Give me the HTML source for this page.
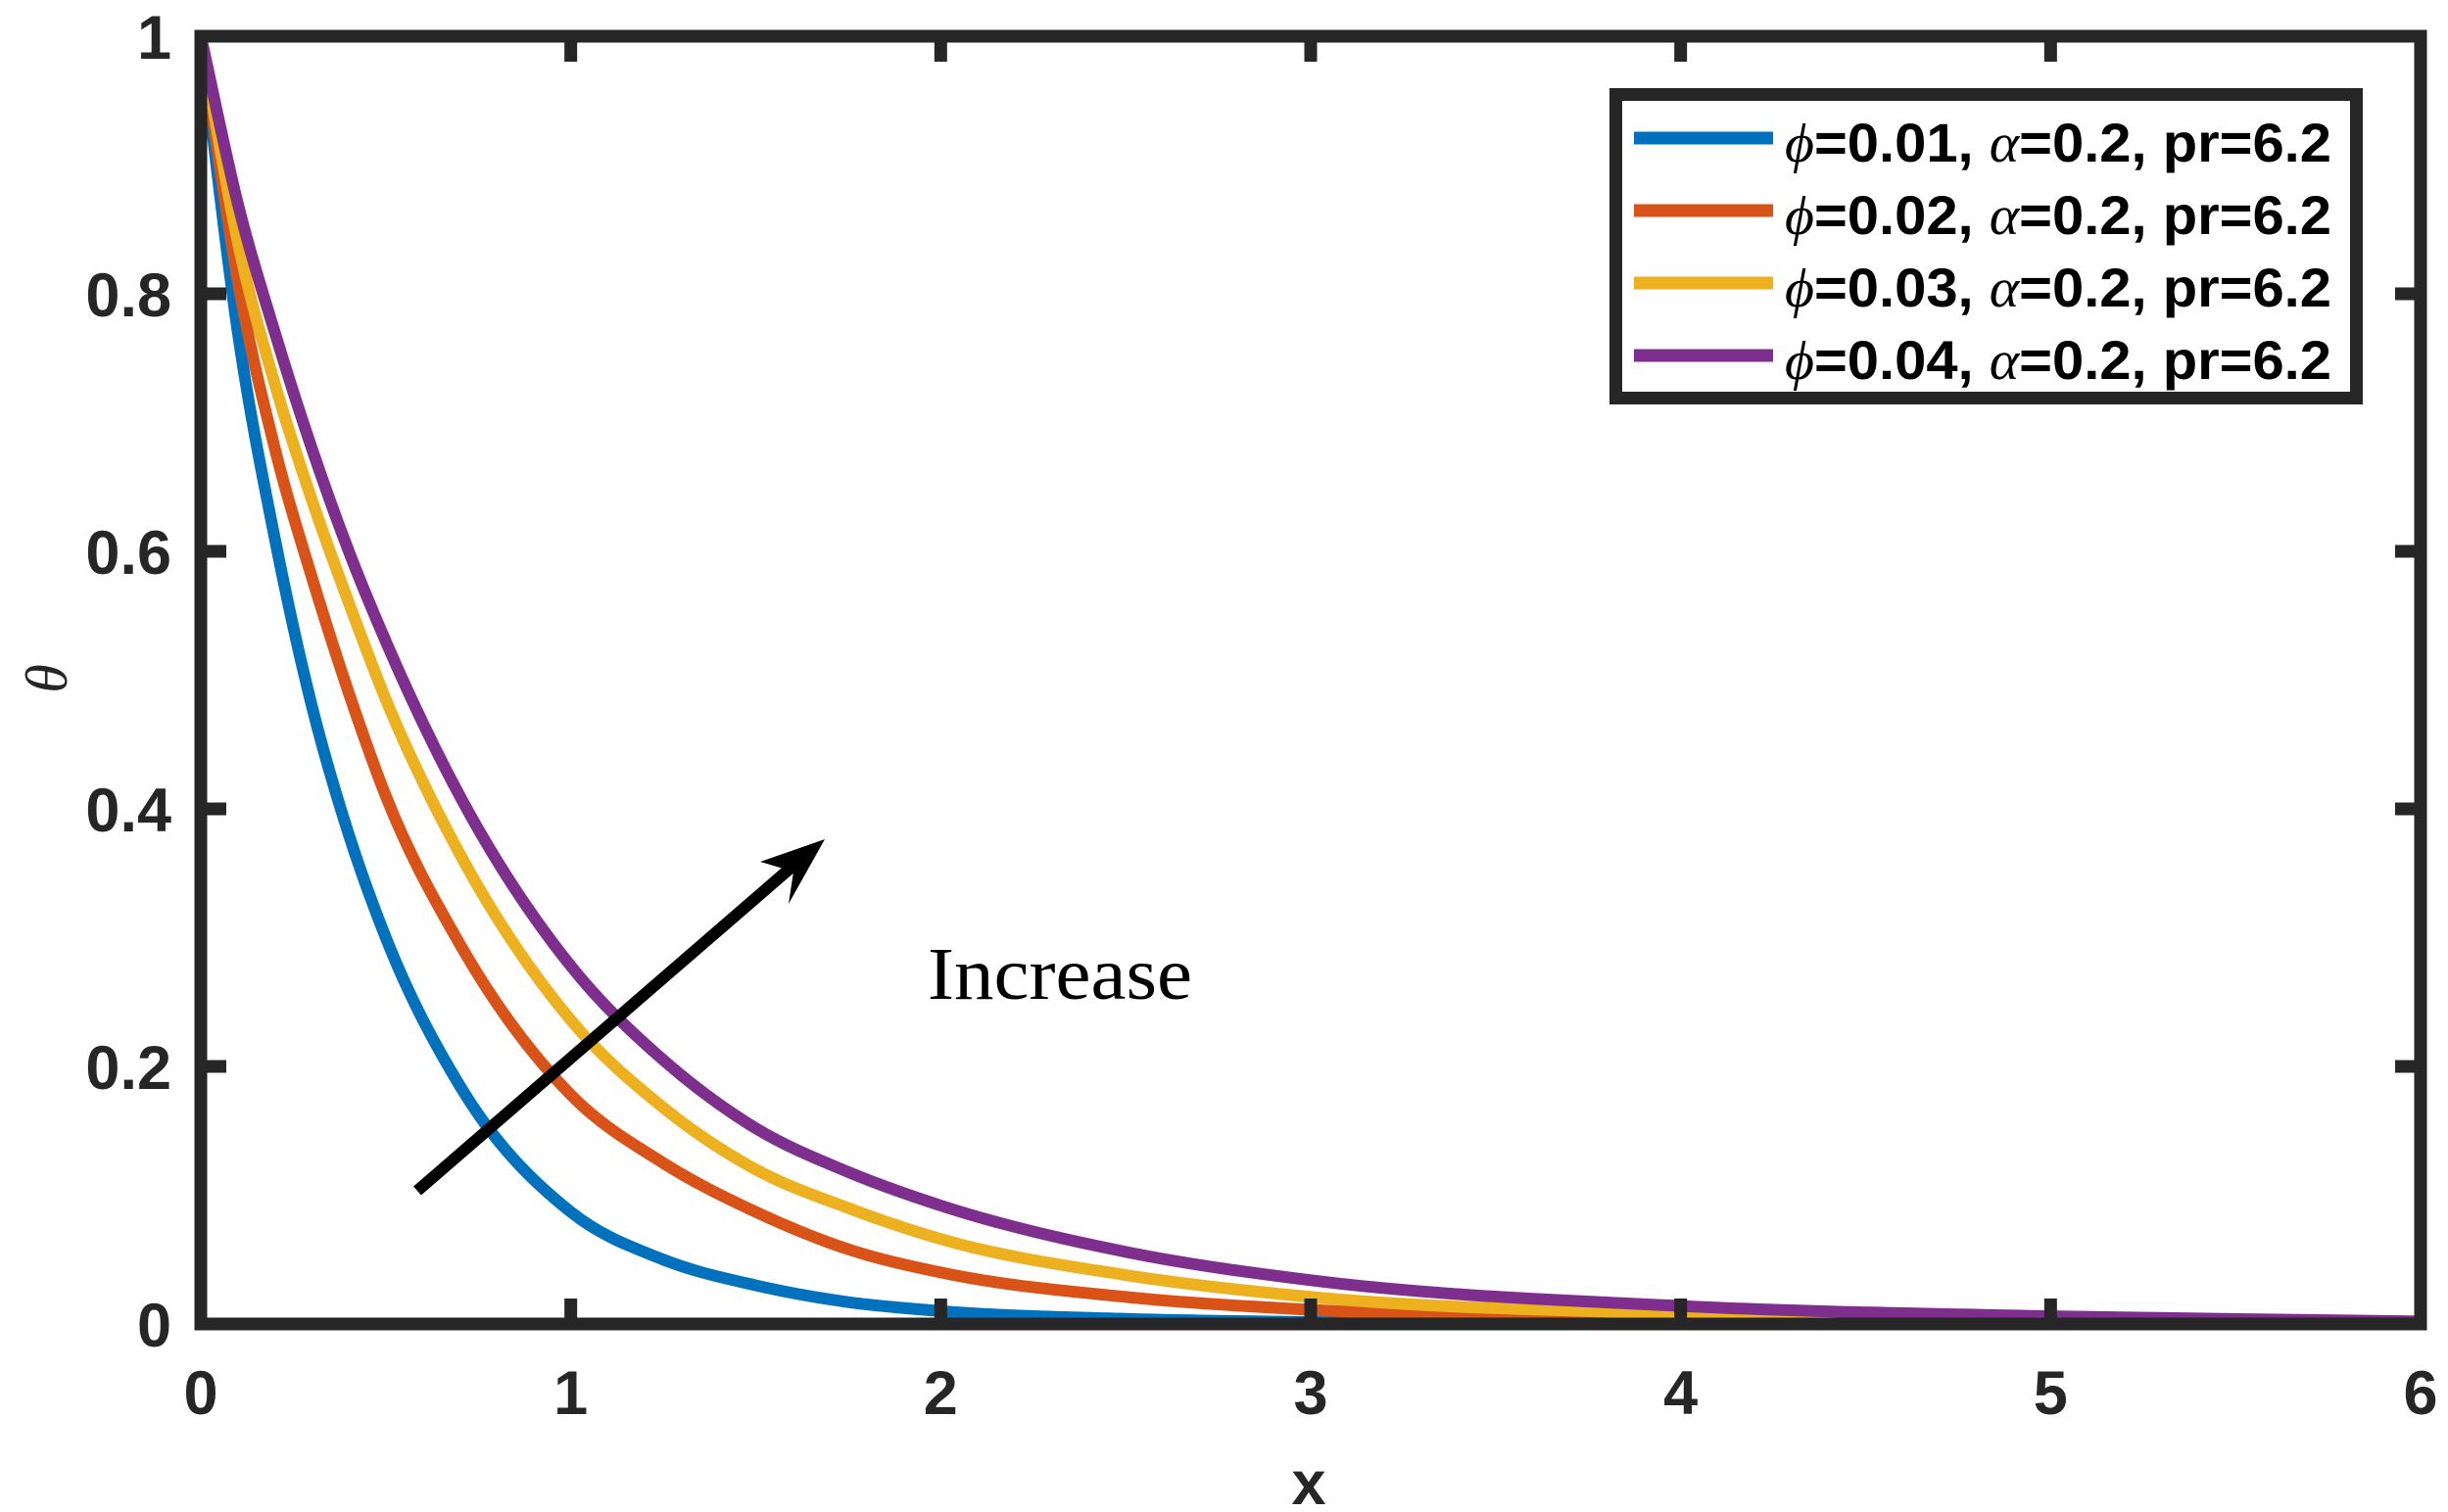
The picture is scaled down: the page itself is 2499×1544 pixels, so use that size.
<!DOCTYPE html>
<html><head><meta charset="utf-8"><style>html,body{margin:0;padding:0;background:#fff}svg{display:block}</style></head>
<body>
<svg id="chart" width="2499" height="1544" viewBox="0 0 2499 1544" xmlns="http://www.w3.org/2000/svg">
<g id="curves"></g>
<g id="axes"></g>
<line x1="426" y1="1216" x2="812" y2="882" stroke="#000" stroke-width="12"/>
<polygon points="842,857 776,880 810,890 805,923" fill="#000"/>
<text x="947" y="1020" font-family="Liberation Serif, serif" font-size="76" fill="#000" textLength="270" lengthAdjust="spacingAndGlyphs">Increase</text>
<text x="1336" y="1536" text-anchor="middle" font-family="Liberation Sans, sans-serif" font-weight="bold" font-size="63" fill="#262626">x</text>
<text transform="translate(68,693) rotate(-90)" text-anchor="middle" font-family="Liberation Serif, serif" font-style="italic" font-size="60" fill="#262626">θ</text>
<g id="legend">
<rect x="1649.5" y="96.5" width="756" height="310" fill="#fff" stroke="#262626" stroke-width="13"/>
</g>
</svg>
<script>
const xs = [0,0.1,0.2,0.3,0.4,0.5,0.7,1,1.25,1.5,1.75,2,2.5,3,4,5,6];
const blue   = [1,0.77,0.61,0.48,0.38,0.30,0.185,0.087,0.05,0.03,0.017,0.010,0.004,0.0015,0.0003,0,0];
const red    = [1,0.81,0.68,0.58,0.49,0.41,0.295,0.178,0.125,0.087,0.058,0.04,0.021,0.011,0.004,0.0015,0];
const yellow = [1,0.84,0.73,0.64,0.56,0.485,0.365,0.236,0.168,0.12,0.09,0.066,0.038,0.021,0.008,0.003,0.001];
const purple = [1,0.87,0.77,0.68,0.60,0.53,0.41,0.278,0.205,0.152,0.118,0.092,0.056,0.034,0.014,0.006,0.002];
const seriesNames = ["phi-0.01","phi-0.02","phi-0.03","phi-0.04"];
const seriesColors = ["#0072BD","#D95319","#EDB120","#7E2F8E"];
const legendPhi = ["0.01","0.02","0.03","0.04"];
const xTicks = [0,1,2,3,4,5,6];
const yTicks = [0,0.2,0.4,0.6,0.8,1];
const yTickLabels = ["0","0.2","0.4","0.6","0.8","1"];

const X0=205, X1=2471, Y0=1352, Y1=37;
const sx = v => X0 + (v-0)/(6-0)*(X1-X0);
const sy = v => Y0 - (v-0)/(1-0)*(Y0-Y1);
const NS="http://www.w3.org/2000/svg";
function mk(tag, attrs){const e=document.createElementNS(NS,tag);for(const k in attrs)e.setAttribute(k,attrs[k]);return e;}

function pathFor(xv, yv){
  const n=xv.length, px=xv.map(sx), py=yv.map(sy);
  const d=[],m=[];
  for(let i=0;i<n-1;i++) d.push((py[i+1]-py[i])/(px[i+1]-px[i]));
  m[0]=d[0]; m[n-1]=d[n-2];
  for(let i=1;i<n-1;i++){
    if(d[i-1]*d[i]<=0){m[i]=0;continue;}
    const h0=px[i]-px[i-1], h1=px[i+1]-px[i];
    m[i]=(d[i-1]*h1+d[i]*h0)/(h0+h1);
  }
  for(let i=0;i<n-1;i++){ if(d[i]===0){m[i]=0;m[i+1]=0;continue;}
    const a=m[i]/d[i], b=m[i+1]/d[i], s=a*a+b*b; if(s>9){const t=3/Math.sqrt(s);m[i]=t*a*d[i];m[i+1]=t*b*d[i];}}
  let p=`M${px[0]},${py[0]}`;
  for(let i=0;i<n-1;i++){const h=(px[i+1]-px[i])/3;
    p+=` C${px[i]+h},${py[i]+m[i]*h} ${px[i+1]-h},${py[i+1]-m[i+1]*h} ${px[i+1]},${py[i+1]}`;}
  return p;
}
const curves=document.getElementById('curves');
[blue,red,yellow,purple].forEach((s,i)=>{
  const p=mk('path',{d:pathFor(xs,s),fill:'none',stroke:seriesColors[i],'stroke-width':12,'stroke-linejoin':'round'});
  
  
  curves.appendChild(p);
});

const axes=document.getElementById('axes');
const box=mk('rect',{x:X0,y:Y1,width:X1-X0,height:Y0-Y1,fill:'none',stroke:'#262626','stroke-width':13});


axes.appendChild(box);
const font='Liberation Sans, sans-serif';
xTicks.forEach(v=>{
  const x=sx(v);
  const t1=mk('line',{x1:x,y1:Y0,x2:x,y2:Y0-26,stroke:'#262626','stroke-width':13});
  
  
  axes.appendChild(t1);
  const t2=mk('line',{x1:x,y1:Y1,x2:x,y2:Y1+26,stroke:'#262626','stroke-width':13});
  
  
  axes.appendChild(t2);
  const lb=mk('text',{x:x,y:1444,'text-anchor':'middle','font-family':font,'font-weight':'bold','font-size':63,fill:'#262626'});
  lb.textContent=String(v);
  
  
  axes.appendChild(lb);
});
yTicks.forEach((v,i)=>{
  const y=sy(v);
  const t1=mk('line',{x1:X0,y1:y,x2:X0+26,y2:y,stroke:'#262626','stroke-width':13});
  
  
  axes.appendChild(t1);
  const t2=mk('line',{x1:X1,y1:y,x2:X1-26,y2:y,stroke:'#262626','stroke-width':13});
  
  
  axes.appendChild(t2);
  const lb=mk('text',{x:175,y:y+23,'text-anchor':'end','font-family':font,'font-weight':'bold','font-size':63,fill:'#262626'});
  lb.textContent=yTickLabels[i];
  
  
  axes.appendChild(lb);
});

const legend=document.getElementById('legend');
legendPhi.forEach((p,i)=>{
  const cy=141+i*74;
  const ln=mk('line',{x1:1668,y1:cy,x2:1810,y2:cy,stroke:seriesColors[i],'stroke-width':13});
  
  
  legend.appendChild(ln);
  const t=mk('text',{x:1822,y:cy+24,'font-family':font,'font-weight':'bold','font-size':56,fill:'#000',textLength:558,lengthAdjust:'spacingAndGlyphs'});
  t.innerHTML='<tspan font-family="Liberation Serif, serif" font-style="italic" font-weight="normal">ϕ</tspan>='+p+', <tspan font-family="Liberation Serif, serif" font-style="italic" font-weight="normal">α</tspan>=0.2, pr=6.2';
  
  
  legend.appendChild(t);
});
</script>
</body></html>
